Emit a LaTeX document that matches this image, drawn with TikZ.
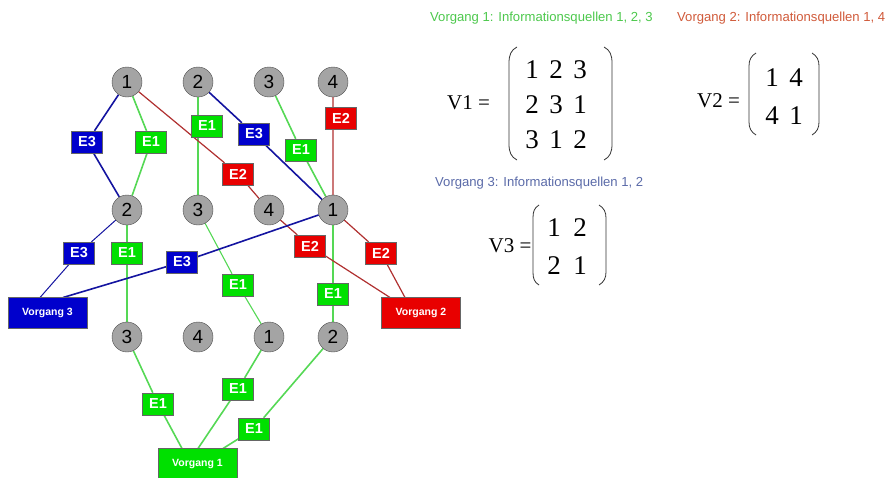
\documentclass[tikz,border=0pt]{standalone}
\usepackage{fontspec}
\setmainfont{Liberation Sans}
\newfontfamily\timesfont{Liberation Serif}
\usetikzlibrary{backgrounds}

\definecolor{egreen}{HTML}{00E000}
\definecolor{lgreen}{HTML}{55D855}
\definecolor{eblue}{HTML}{0000CC}
\definecolor{lblue}{HTML}{1414A0}
\definecolor{ered}{HTML}{E80000}
\definecolor{lred}{HTML}{B03030}
\definecolor{nodegray}{HTML}{A4A4A4}
\definecolor{tgreen}{HTML}{4CC84C}
\definecolor{tred}{HTML}{D05A3A}
\definecolor{tblue}{HTML}{5A6AA8}

\tikzset{
  src/.style={circle, draw=black!70, fill=nodegray, minimum size=30pt, inner sep=0pt,
    font=\fontsize{19}{19}\selectfont},
  lab/.style={draw=black!60, minimum width=31pt, minimum height=22pt, inner sep=0pt,
    text=white, font=\bfseries\fontsize{14.5}{14.5}\selectfont},
  lg/.style={lab, fill=egreen},
  lb/.style={lab, fill=eblue},
  lr/.style={lab, fill=ered},
  proc/.style={draw=black!60, minimum width=79pt, minimum height=31pt, inner sep=0pt,
    text=white, font=\bfseries\fontsize{10.5}{10.5}\selectfont},
  gline/.style={draw=lgreen, line width=1.6pt},
  gthin/.style={draw=lgreen, line width=1.1pt},
  bline/.style={draw=lblue, line width=1.6pt},
  bthin/.style={draw=lblue, line width=1.0pt},
  rline/.style={draw=lred, line width=1.2pt},
  title/.style={anchor=west, inner sep=0pt, font=\fontsize{13.1}{14}\selectfont},
  mat/.style={inner sep=0pt, font=\timesfont\fontsize{27}{27}\selectfont},
  eqn/.style={inner sep=0pt, font=\timesfont\fontsize{21}{21}\selectfont},
  paren/.style={draw=black!80, line width=0.8pt},
}

\begin{document}
\begin{tikzpicture}[x=1pt, y=-1pt]
\useasboundingbox (0,0) rectangle (885,477);

% information sources, three rows
\node[src] (a1) at (127,82) {1};
\node[src] (a2) at (198,82) {2};
\node[src] (a3) at (269,82) {3};
\node[src] (a4) at (333,82) {4};
\node[src] (b2) at (127,210) {2};
\node[src] (b3) at (198,210) {3};
\node[src] (b4) at (269,210) {4};
\node[src] (b1) at (333,210) {1};
\node[src] (c3) at (127,337) {3};
\node[src] (c4) at (198,337) {4};
\node[src] (c1) at (269,337) {1};
\node[src] (c2) at (333,337) {2};

% processes
\node[proc, fill=eblue] (p3) at (47.5,313) {Vorgang 3};
\node[proc, fill=ered]  (p2) at (421,313) {Vorgang 2};
\node[proc, fill=egreen] (p1) at (197.5,464) {Vorgang 1};

% attachment points on the process boxes
\coordinate (p3a) at (40,297.5);
\coordinate (p3b) at (63,297.5);
\coordinate (p2a) at (390,297.5);
\coordinate (p2b) at (405,297.5);
\coordinate (p1a) at (182,448.5);
\coordinate (p1b) at (198,448.5);
\coordinate (p1c) at (223,448.5);

% edge labels
\node[lb] (l1)  at (87,142)  {E3};
\node[lg] (l2)  at (151,142) {E1};
\node[lg] (l3)  at (207,126) {E1};
\node[lb] (l4)  at (254,134) {E3};
\node[lg] (l5)  at (301,150) {E1};
\node[lr] (l6)  at (341,118) {E2};
\node[lr] (l7)  at (238,174) {E2};
\node[lb] (l8)  at (79,253)  {E3};
\node[lg] (l9)  at (127,253) {E1};
\node[lb] (l10) at (182,262) {E3};
\node[lr] (l11) at (310,246) {E2};
\node[lr] (l12) at (381,253) {E2};
\node[lg] (l13) at (238,285) {E1};
\node[lg] (l14) at (333,294) {E1};
\node[lg] (l15) at (158,404) {E1};
\node[lg] (l16) at (238,389) {E1};
\node[lg] (l17) at (254,429) {E1};

\begin{scope}[on background layer]
  % Vorgang 1
  \draw[gline] (p1a) -- (l15) -- (c3) -- (b2) -- (l2) -- (a1);
  \draw[gline] (p1b) -- (l16) -- (c1);
  \draw[gthin] (c1) -- (l13) -- (b3);
  \draw[gline] (b3) -- (a2);
  \draw[gline] (p1c) -- (l17) -- (c2) -- (b1) -- (l5) -- (a3);
  % Vorgang 2
  \draw[rline] (p2a) -- (l11) -- (b4) -- (l7) -- (a1);
  \draw[rline] (p2b) -- (l12) -- (b1) -- (a4);
  % Vorgang 3
  \draw[bthin] (p3a) -- (l8) -- (b2);
  \draw[bline] (b2) -- (l1) -- (a1);
  \draw[bline] (p3b) -- (l10) -- (b1) -- (l4) -- (a2);
\end{scope}

% headings
\node[title, text=tgreen] (t1) at (430,18) {Vorgang 1: Informationsquellen 1, 2, 3};
\node[title, text=tred]   (t2) at (677,18) {Vorgang 2: Informationsquellen 1, 4};
\node[title, text=tblue]  (t3) at (435,183) {Vorgang 3: Informationsquellen 1, 2};

% matrix V1
\node[eqn] (v1n) at (468.5,103) {V1 =};
\draw[paren] (517,47) .. controls (511,50) and (509,55) .. (509,63) -- (509,144) .. controls (509,152) and (511,157) .. (517,160);
\draw[paren] (604,47) .. controls (610,50) and (612,55) .. (612,63) -- (612,144) .. controls (612,152) and (610,157) .. (604,160);
\node[mat] (m11) at (532,70) {1};
\node[mat] (m12) at (556,70) {2};
\node[mat] (m13) at (580,70) {3};
\node[mat] (m21) at (532,105) {2};
\node[mat] (m22) at (556,105) {3};
\node[mat] (m23) at (580,105) {1};
\node[mat] (m31) at (532,140) {3};
\node[mat] (m32) at (556,140) {1};
\node[mat] (m33) at (580,140) {2};

% matrix V2
\node[eqn] (v2n) at (718.5,100.5) {V2 =};
\draw[paren] (756,53) .. controls (751,56) and (749,60) .. (749,66) -- (749,122) .. controls (749,128) and (751,132) .. (756,135);
\draw[paren] (812,53) .. controls (817,56) and (819,60) .. (819,66) -- (819,122) .. controls (819,128) and (817,132) .. (812,135);
\node[mat] (n11) at (772,78) {1};
\node[mat] (n12) at (796,78) {4};
\node[mat] (n21) at (772,116) {4};
\node[mat] (n22) at (796,116) {1};

% matrix V3
\node[eqn] (v3n) at (510,246) {V3 =};
\draw[paren] (539,205) .. controls (534,208) and (533,212) .. (533,218) -- (533,272) .. controls (533,278) and (534,282) .. (539,285);
\draw[paren] (599,205) .. controls (604,208) and (606,212) .. (606,218) -- (606,272) .. controls (606,278) and (604,282) .. (599,285);
\node[mat] (o11) at (554,228) {1};
\node[mat] (o12) at (580,228) {2};
\node[mat] (o21) at (554,266) {2};
\node[mat] (o22) at (580,266) {1};
\end{tikzpicture}
\end{document}
